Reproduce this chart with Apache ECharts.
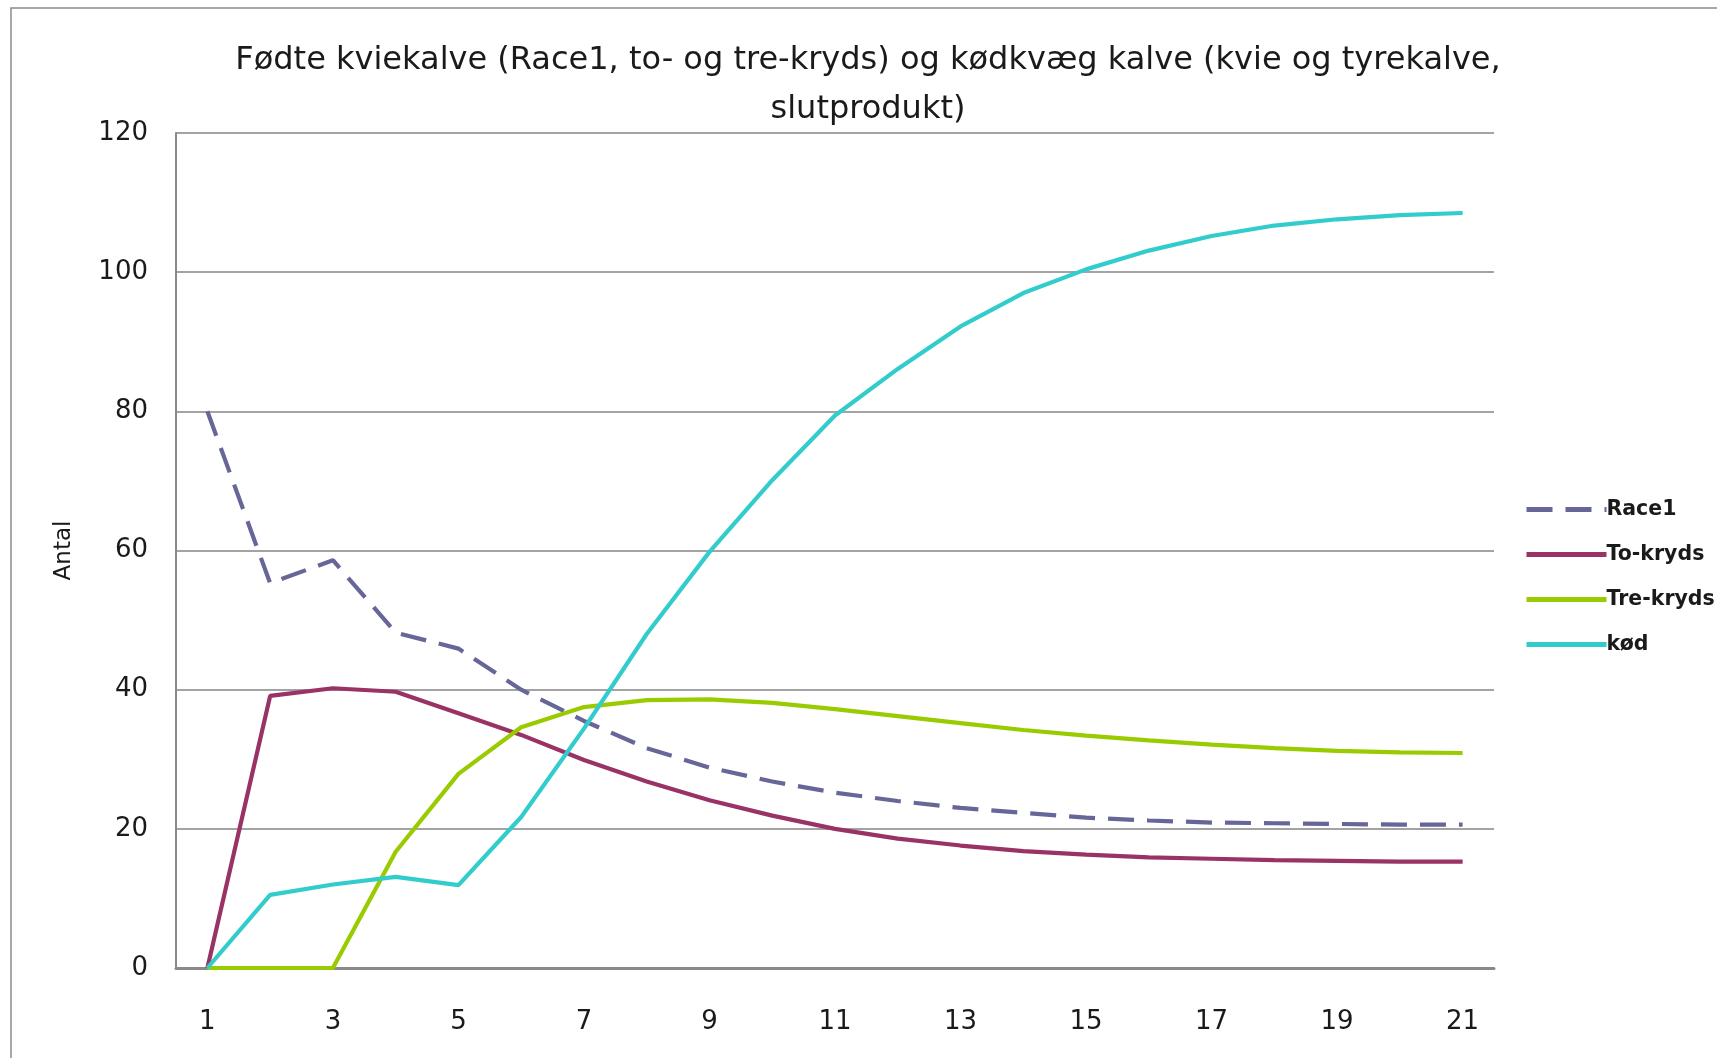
<!DOCTYPE html>
<html>
<head>
<meta charset="utf-8">
<title>Fødte kviekalve</title>
<script src="https://cdn.jsdelivr.net/npm/echarts@6/dist/echarts.min.js"></script>
<style>
  html, body { margin: 0; padding: 0; background: #fff; }
  #chart { width: 1717px; height: 1058px; }
</style>
</head>
<body>
<div id="chart"></div>
<script>
// x-axis categories (år)
const years = ['1', '2', '3', '4', '5', '6', '7', '8', '9', '10', '11',
  '12', '13', '14', '15', '16', '17', '18', '19', '20', '21']

// series
const race1 = [80, 55.3, 58.6, 48.2, 45.9, 40.0, 35.5, 31.6, 28.8, 26.8, 25.2,
  24.0, 23.0, 22.3, 21.6, 21.2, 20.9, 20.8, 20.7, 20.6, 20.6]
const toKryds = [0, 39.1, 40.2, 39.7, 36.6, 33.5, 29.9, 26.8, 24.1, 21.9, 20.0,
  18.6, 17.6, 16.8, 16.3, 15.9, 15.7, 15.5, 15.4, 15.3, 15.3]
const treKryds = [0, 0, 0, 16.7, 27.9, 34.6, 37.5, 38.5, 38.6, 38.1, 37.2,
  36.2, 35.2, 34.2, 33.4, 32.7, 32.1, 31.6, 31.2, 31.0, 30.9]
const kod = [0, 10.5, 12.0, 13.1, 11.9, 21.7, 34.4, 48.0, 59.8, 70.1, 79.4,
  86.1, 92.2, 97.0, 100.4, 103.1, 105.2, 106.7, 107.6, 108.2, 108.5]

const font = 'DejaVu Sans'

const chart = echarts.init(document.getElementById('chart'))
const option = {
  animation: false,
  backgroundColor: '#fff',
  textStyle: { fontFamily: font, color: '#1a1a1a' },
  title: {
    text: 'Fødte kviekalve (Race1, to- og tre-kryds) og kødkvæg kalve (kvie og tyrekalve,\nslutprodukt)',
    left: 868,
    top: 36,
    padding: 0,
    textAlign: 'center',
    textStyle: {
      fontFamily: font,
      fontWeight: 'normal',
      fontSize: 32,
      lineHeight: 49,
      color: '#1a1a1a'
    }
  },
  graphic: [
    {
      type: 'polyline',
      shape: { points: [[11, 1058], [11, 8], [1717, 8]] },
      style: { stroke: '#8c8c8c', lineWidth: 1.5, fill: null }
    }
  ],
  legend: {
    orient: 'vertical',
    left: 1524,
    top: 499,
    padding: 0,
    itemWidth: 80,
    itemHeight: 14,
    itemGap: 24,
    itemStyle: { opacity: 0 },
    lineStyle: { width: 5 },
    textStyle: { fontFamily: font, fontSize: 20.5, fontWeight: 'bold', color: '#1a1a1a', padding: [0, 0, 0, -5] },
    data: ['Race1', 'To-kryds', 'Tre-kryds', 'kød']
  },
  grid: {
    left: 176,
    right: 223,
    top: 133,
    bottom: 90
  },
  xAxis: {
    type: 'category',
    data: years,
    boundaryGap: true,
    axisLine: { lineStyle: { color: '#8a8a8a', width: 3 } },
    axisTick: { show: false },
    axisLabel: {
      interval: 1,
      margin: 41,
      fontFamily: font,
      fontSize: 26,
      color: '#1a1a1a'
    }
  },
  yAxis: {
    type: 'value',
    min: 0,
    max: 120,
    interval: 20,
    name: 'Antal',
    nameLocation: 'middle',
    nameRotate: 90,
    nameGap: 100,
    nameTextStyle: { fontFamily: font, fontSize: 23, color: '#1a1a1a' },
    axisLine: { show: true, lineStyle: { color: '#8a8a8a', width: 2 } },
    axisTick: { show: false },
    axisLabel: {
      margin: 28,
      fontFamily: font,
      fontSize: 26,
      color: '#1a1a1a'
    },
    splitLine: { lineStyle: { color: '#858585', width: 1.6 } }
  },
  series: [
    {
      name: 'Race1',
      type: 'line',
      data: race1,
      symbol: 'none',
      itemStyle: { color: '#666699' },
      lineStyle: { color: '#666699', width: 4.2, type: [26, 13] }
    },
    {
      name: 'To-kryds',
      type: 'line',
      data: toKryds,
      symbol: 'none',
      itemStyle: { color: '#993366' },
      lineStyle: { color: '#993366', width: 4.2 }
    },
    {
      name: 'Tre-kryds',
      type: 'line',
      data: treKryds,
      symbol: 'none',
      itemStyle: { color: '#99cc00' },
      lineStyle: { color: '#99cc00', width: 4.2 }
    },
    {
      name: 'kød',
      type: 'line',
      data: kod,
      symbol: 'none',
      itemStyle: { color: '#33cccc' },
      lineStyle: { color: '#33cccc', width: 4.2 }
    }
  ]
}
chart.setOption(option)
</script>
</body>
</html>
